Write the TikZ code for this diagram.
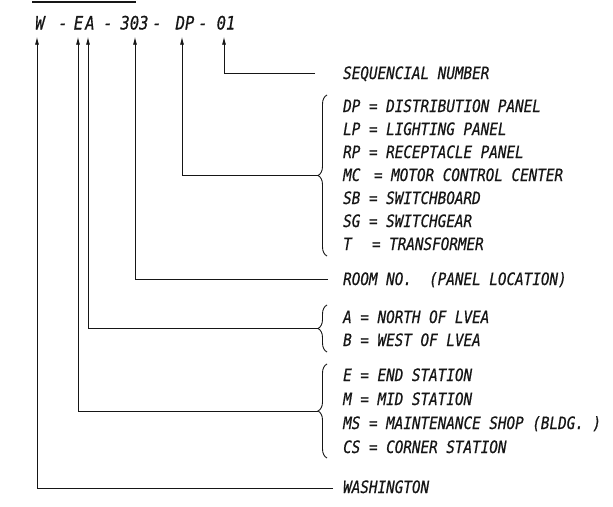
\documentclass[tikz,border=0pt]{standalone}
\usepackage{fontspec}
\setmainfont{DejaVu Sans Mono}[FakeStretch=0.84,FakeBold=0.6,ItalicFont={DejaVu Sans Mono Oblique}]
\usetikzlibrary{arrows.meta,decorations.pathreplacing}
\definecolor{inkK}{RGB}{22,22,22}

\begin{document}
\begin{tikzpicture}[x=1pt,y=-1pt,>={Latex[length=8pt,width=4pt]},
  lbl/.style={anchor=west,inner sep=0pt,text height=12pt,text depth=0pt,font=\fontsize{17}{19}\selectfont\itshape,text=inkK},
  code/.style={inner sep=0pt,text height=13pt,text depth=0pt,font=\fontsize{18.5}{20}\selectfont\itshape,text=inkK},
  lead/.style={inkK,line width=0.9pt},
  brc/.style={inkK,line width=0.9pt,decorate,decoration={brace,amplitude=9pt}}]
\useasboundingbox (0,0) rectangle (613,506);
\draw[inkK,line width=1.2pt] (32,2)--(136,2);
% the code
\node[code] (cW) at (40,23) {W};
\node[code] (d1) at (63,23) {-};
\node[code] (cE) at (78.5,23) {E};
\node[code] (cA) at (90,23) {A};
\node[code] (d2) at (108,23) {-};
\node[code] (c303) at (134.5,23) {303};
\node[code] (d3) at (157,23) {-};
\node[code] (cDP) at (185,23) {DP};
\node[code] (d4) at (203,23) {-};
\node[code] (c01) at (226,23) {01};
% meanings
\node[lbl] (lSeq) at (343,73) {SEQUENCIAL NUMBER};
\node[lbl] (lDP) at (343,106) {DP = DISTRIBUTION PANEL};
\node[lbl] (lLP) at (343,129) {LP = LIGHTING PANEL};
\node[lbl] (lRP) at (343,152) {RP = RECEPTACLE PANEL};
\node[lbl] (lMC) at (343,175) {MC\ \kern5pt= MOTOR CONTROL CENTER};
\node[lbl] (lSB) at (343,198) {SB = SWITCHBOARD};
\node[lbl] (lSG) at (343,221) {SG = SWITCHGEAR};
\node[lbl] (lT) at (343,244) {T\ \ \kern3pt= TRANSFORMER};
\node[lbl] (lRoom) at (343,279) {ROOM NO.\ \ (PANEL LOCATION)};
\node[lbl] (lA) at (343,317) {A = NORTH OF LVEA};
\node[lbl] (lB) at (343,340) {B = WEST OF LVEA};
\node[lbl] (lE) at (343,375) {E = END STATION};
\node[lbl] (lM) at (343,399) {M = MID STATION};
\node[lbl] (lMS) at (343,423) {MS = MAINTENANCE SHOP (BLDG.\ )};
\node[lbl] (lCS) at (343,447) {CS = CORNER STATION};
\node[lbl] (lW) at (343,487) {WASHINGTON};
% braces
\draw[brc] (327,256)--(327,95);
\draw[brc] (327,352)--(327,305);
\draw[brc] (327,458)--(327,364);
\coordinate (tSeq) at (315,73);
\coordinate (tDP) at (318,175.5);
\coordinate (tRoom) at (328,279);
\coordinate (tA) at (318,328.5);
\coordinate (tE) at (318,411);
\coordinate (tW) at (333,488);
% leaders
\draw[lead,->] (tSeq) -| ([xshift=-2pt,yshift=-7pt]c01.south);
\draw[lead,->] (tDP) -| ([xshift=-3pt,yshift=-7pt]cDP.south);
\draw[lead,->] (tRoom) -| ([xshift=0.5pt,yshift=-7pt]c303.south);
\draw[lead,->] (tA) -| ([xshift=-2pt,yshift=-7pt]cA.south);
\draw[lead,->] (tE) -| ([xshift=-0.5pt,yshift=-7pt]cE.south);
\draw[lead,->] (tW) -| ([xshift=-3pt,yshift=-7pt]cW.south);
\end{tikzpicture}
\end{document}
